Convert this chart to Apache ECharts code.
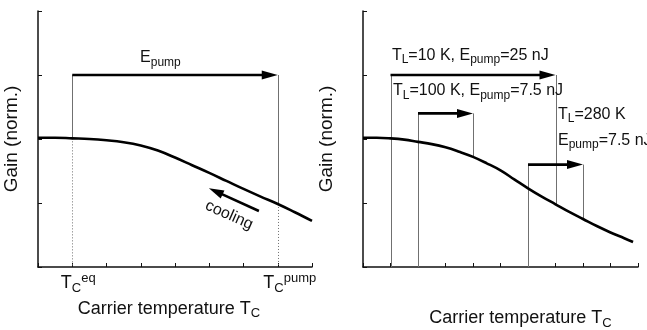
<!DOCTYPE html>
<html><head><meta charset="utf-8">
<script src="https://cdn.jsdelivr.net/npm/echarts@6/dist/echarts.min.js"></script>
<style>html,body{margin:0;padding:0;background:#fff}#c{width:647px;height:330px}</style>
</head><body><div id="c"></div>
<script>
// ---------------- data ----------------
const leftTemp  = [0, 0.5, 1, 1.5, 2, 2.5, 3, 3.5, 4, 4.5, 5, 5.5, 6, 6.5, 7, 7.5, 8];
const leftGain  = [2.02, 2.02, 2.01, 2.0, 1.98, 1.95, 1.90, 1.82, 1.71, 1.59, 1.47, 1.345, 1.22, 1.10, 0.985, 0.855, 0.72];
const rightTemp = [0, 0.5, 1, 1.5, 2, 2.5, 3, 3.5, 4, 4.5, 5, 5.5, 6, 6.5, 7, 7.5, 8, 8.5, 9, 9.5, 9.82];
const rightGain = [2.02, 2.02, 2.01, 1.99, 1.955, 1.92, 1.87, 1.80, 1.72, 1.62, 1.51, 1.37, 1.23, 1.10, 0.98, 0.86, 0.75, 0.64, 0.54, 0.45, 0.39];

// pump arrows (start temperature, end temperature, level)
const leftPumpFrom  = [1];
const leftPumpTo    = [7];
const leftPumpLevel = [3];
const rightPumpFrom  = [1, 2, 6];
const rightPumpTo    = [7, 4, 8];
const rightPumpLevel = [3, 2.4, 1.6];

// cooling arrow (tail -> head)
const coolingFrom = [6.45, 0.875];
const coolingTo   = [4.99, 1.23];

// x tick labels of left panel
const tickLabelValues = [1, 7];
const tickLabelSups   = ['eq', 'pump'];

// annotation texts
const leftNotes  = ['{b|E}{s|pump}', '{b|cooling}'];
const rightNotes = [
  '{b|T}{s|L}{b|=10 K, E}{s|pump}{b|=25 nJ}',
  '{b|T}{s|L}{b|=100 K, E}{s|pump}{b|=7.5 nJ}',
  '{b|T}{s|L}{b|=280 K}',
  '{b|E}{s|pump}{b|=7.5 nJ}'
];

// ---------------- layout (not data) ----------------
const leftNoteAnchor  = [[2.98, 3.27, 0], [5.58, 0.81, -24]];
const leftNoteAlign   = ['left', 'center'];
const rightNoteAnchor = [[1.05, 3.31, 0], [1.09, 2.75, 0], [7.09, 2.38, 0], [7.09, 1.98, 0]];

const FONT = '"Liberation Sans", Arial, Helvetica, sans-serif';
const INK = '#111';
const GRAY = '#707070';

const noteRich = {
  b: {fontSize: 16, fontFamily: FONT, fill: INK, color: INK},
  s: {fontSize: 12, fontFamily: FONT, fill: INK, color: INK, padding: [9, 0, 0, 0]}
};
const axisRich = {
  B: {fontSize: 18, fontFamily: FONT, color: INK},
  T: {fontSize: 18, fontFamily: FONT, color: INK},
  Ta: {fontSize: 18, fontFamily: FONT, color: INK, padding: [0, 0, 0, 12]},
  Tb: {fontSize: 18, fontFamily: FONT, color: INK, padding: [0, 0, 0, 24]},
  S: {fontSize: 13, fontFamily: FONT, color: INK, padding: [10, 0, 0, 0]},
  P: {fontSize: 13, fontFamily: FONT, color: INK, padding: [0, 0, 10, 0]}
};

function gainAt(temps, gains, x) { return gains[temps.indexOf(x)]; }
function zip(a, b) { return a.map((v, i) => [v, b[i]]); }

// segments [x, yA, yB]
const leftSolid = [], leftDotted = [], rightSolid = [];
leftPumpFrom.forEach((f, i) => {
  const t = leftPumpTo[i], lv = leftPumpLevel[i];
  leftSolid.push([f, lv, gainAt(leftTemp, leftGain, f)]);
  leftSolid.push([t, lv, gainAt(leftTemp, leftGain, t)]);
  leftDotted.push([f, gainAt(leftTemp, leftGain, f), 0]);
  leftDotted.push([t, gainAt(leftTemp, leftGain, t), 0]);
});
rightPumpFrom.forEach((f, i) => {
  const t = rightPumpTo[i], lv = rightPumpLevel[i];
  rightSolid.push([f, lv, 0]);
  rightSolid.push([t, lv, gainAt(rightTemp, rightGain, t)]);
});
const leftArrows  = leftPumpFrom.map((f, i) => [f, leftPumpTo[i], leftPumpLevel[i]]);
const rightArrows = rightPumpFrom.map((f, i) => [f, rightPumpTo[i], rightPumpLevel[i]]);

function arrowEl(p0, p1, len, hw, lw) {
  const dx = p1[0] - p0[0], dy = p1[1] - p0[1];
  const L = Math.hypot(dx, dy), ux = dx / L, uy = dy / L;
  const bx = p1[0] - ux * len, by = p1[1] - uy * len;
  return {type: 'group', children: [
    {type: 'line', shape: {x1: p0[0], y1: p0[1], x2: bx + ux * 2, y2: by + uy * 2},
     style: {stroke: '#000', lineWidth: lw}},
    {type: 'polygon', shape: {points: [[p1[0], p1[1]], [bx - uy * hw, by + ux * hw], [bx + uy * hw, by - ux * hw]]},
     style: {fill: '#000'}}
  ]};
}

function segSeries(idx, data, dash) {
  return {type: 'custom', xAxisIndex: idx, yAxisIndex: idx, data: data, z: 2, silent: true,
    renderItem: (params, api) => {
      const p0 = api.coord([api.value(0), api.value(1)]);
      const p1 = api.coord([api.value(0), api.value(2)]);
      const x = Math.round(p0[0]) + 0.5;
      return {type: 'line', shape: {x1: x, y1: p0[1], x2: x, y2: p1[1]},
        style: {stroke: GRAY, lineWidth: 1, lineDash: dash}};
    }};
}
function pumpSeries(idx, data) {
  return {type: 'custom', xAxisIndex: idx, yAxisIndex: idx, data: data, z: 4, silent: true,
    renderItem: (params, api) => {
      const p0 = api.coord([api.value(0), api.value(2)]);
      const p1 = api.coord([api.value(1), api.value(2)]);
      return arrowEl(p0, p1, 16, 4.5, 2.6);
    }};
}
function noteSeries(idx, notes, anchors, aligns) {
  return {type: 'custom', xAxisIndex: idx, yAxisIndex: idx, data: anchors, z: 5, silent: true,
    renderItem: (params, api) => {
      const p = api.coord([api.value(0), api.value(1)]);
      const i = params.dataIndex;
      return {type: 'text', x: p[0], y: p[1], rotation: api.value(2) * Math.PI / 180,
        style: {text: notes[i], rich: noteRich, fill: INK, fontFamily: FONT, fontSize: 16,
          align: aligns ? aligns[i] : 'left', verticalAlign: 'middle'}};
    }};
}

function xAxisCfg(idx, max, labelled, nameGap, namePad) {
  return {gridIndex: idx, type: 'value', min: 0, max: max, interval: 1,
    axisLine: {show: true, onZero: false, lineStyle: {color: INK, width: 1.5}},
    axisTick: {show: true, inside: true, length: 4, lineStyle: {color: INK, width: 1}},
    splitLine: {show: false},
    axisLabel: {show: labelled, margin: 5, interval: 0, hideOverlap: false,
      formatter: v => {
        const k = tickLabelValues.indexOf(v);
        if (k < 0) return '';
        return '{' + (k === 0 ? 'Ta' : 'Tb') + '|T}{S|C}{P|' + tickLabelSups[k] + '}';
      }, rich: axisRich},
    name: '{B|Carrier temperature T}{S|C}', nameLocation: 'middle', nameGap: nameGap,
    nameTextStyle: {rich: axisRich, padding: namePad}};
}
function yAxisCfg(idx, nameGap) {
  return {gridIndex: idx, type: 'value', min: 0, max: 4, interval: 1,
    axisLine: {show: true, onZero: false, lineStyle: {color: INK, width: 1.5}},
    axisTick: {show: true, inside: true, length: 4, lineStyle: {color: INK, width: 1}},
    axisLabel: {show: false}, splitLine: {show: false},
    name: 'Gain (norm.)', nameLocation: 'middle', nameGap: nameGap, nameRotate: 90,
    nameTextStyle: {fontSize: 19, fontFamily: FONT, color: INK}};
}

const chart = echarts.init(document.getElementById('c'), null, {renderer: 'canvas'});
chart.setOption({
  animation: false,
  backgroundColor: '#fff',
  grid: [
    {left: 38, top: 11, width: 274, height: 256, outerBoundsMode: 'none', containLabel: false},
    {left: 363, top: 11, width: 275, height: 256, outerBoundsMode: 'none', containLabel: false}
  ],
  xAxis: [xAxisCfg(0, 8, true, 30, [0, 12, 0, 0]), xAxisCfg(1, 10, false, 40, [0, 0, 0, 40])],
  yAxis: [yAxisCfg(0, 17), yAxisCfg(1, 27)],
  series: [
    {type: 'line', xAxisIndex: 0, yAxisIndex: 0, data: zip(leftTemp, leftGain), smooth: 0.4,
     symbol: 'none', z: 3, lineStyle: {color: '#000', width: 2.6}},
    segSeries(0, leftSolid, null),
    segSeries(0, leftDotted, [1, 2]),
    pumpSeries(0, leftArrows),
    {type: 'custom', xAxisIndex: 0, yAxisIndex: 0, data: [[coolingFrom[0], coolingFrom[1], coolingTo[0], coolingTo[1]]],
     z: 4, silent: true,
     renderItem: (params, api) => arrowEl(api.coord([api.value(0), api.value(1)]),
                                          api.coord([api.value(2), api.value(3)]), 15, 4.5, 2.6)},
    noteSeries(0, leftNotes, leftNoteAnchor, leftNoteAlign),

    {type: 'line', xAxisIndex: 1, yAxisIndex: 1, data: zip(rightTemp, rightGain), smooth: 0.4,
     symbol: 'none', z: 3, lineStyle: {color: '#000', width: 2.6}},
    segSeries(1, rightSolid, null),
    pumpSeries(1, rightArrows),
    noteSeries(1, rightNotes, rightNoteAnchor, null)
  ]
});
</script>
</body></html>
